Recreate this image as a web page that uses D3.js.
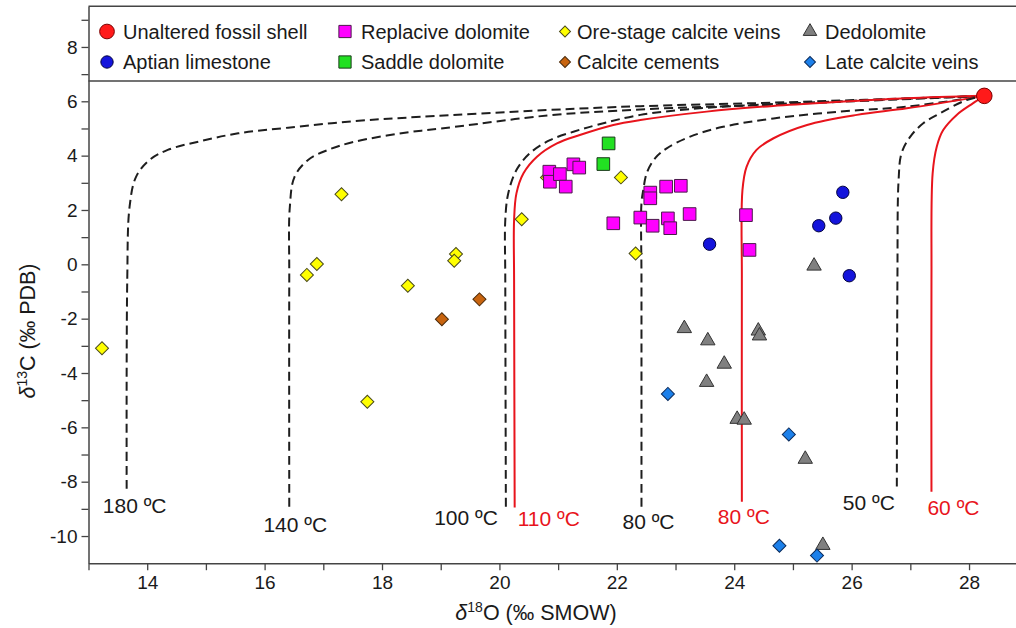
<!DOCTYPE html>
<html>
<head>
<meta charset="utf-8">
<script src="https://cdn.jsdelivr.net/npm/d3@7"></script>
<style>
  body { margin: 0; background: #fff; }
  svg text { font-family: "Liberation Sans", Arial, sans-serif; fill: #1a1a1a; }
</style>
</head>
<body>
<div id="chart"></div>
<script>
// ---- data (δ18O ‰ SMOW, δ13C ‰ PDB) ----
const fossilShell = [[28.26, 6.2]];
const aptianLimestone = [[23.58, 0.74], [25.85, 2.65], [25.73, 1.70], [25.44, 1.42], [25.96, -0.42]];
const replaciveDolomite = [
  [20.85, 3.41], [20.86, 3.04], [21.03, 3.32], [21.13, 2.86], [21.26, 3.68], [21.36, 3.56],
  [22.57, 2.64], [22.57, 2.43], [22.84, 2.86], [23.09, 2.89],
  [21.94, 1.51], [22.40, 1.72], [22.61, 1.42], [22.87, 1.69], [22.91, 1.33], [23.24, 1.85],
  [24.20, 1.81], [24.26, 0.53]
];
const saddleDolomite = [[21.86, 4.45], [21.77, 3.69]];
const oreStageVeins = [
  [13.23, -3.09], [17.31, 2.58], [16.89, 0.01], [16.72, -0.39], [19.26, 0.38], [19.23, 0.13],
  [18.44, -0.79], [17.75, -5.06], [20.81, 3.20], [22.07, 3.20], [20.38, 1.66], [22.32, 0.40]
];
const calciteCements = [[19.66, -1.29], [19.02, -2.02]];
const dedolomite = [
  [23.15, -2.36], [23.55, -2.81], [23.83, -3.67], [23.53, -4.34], [24.41, -2.45], [24.43, -2.63],
  [24.05, -5.70], [24.17, -5.73], [25.21, -7.17], [25.51, -10.34], [25.36, -0.06]
];
const lateVeins = [[22.87, -4.77], [24.93, -6.26], [24.77, -10.36], [25.41, -10.72]];

// fluid–rock interaction curves
const curve180 = [[13.65, -8.26], [13.66, -0.58], [13.70, 2.12], [13.81, 3.22], [14.04, 3.84], [14.35, 4.21],
  [14.92, 4.54], [15.55, 4.82], [16.40, 5.03], [17.53, 5.27], [18.66, 5.43], [20.83, 5.68], [22.40, 5.82],
  [24.66, 5.95], [28.26, 6.2]];
const curve140 = [[16.42, -8.92], [16.42, -0.58], [16.43, 2.12], [16.51, 3.22], [16.74, 3.84], [17.08, 4.21],
  [17.53, 4.51], [18.39, 4.84], [19.24, 5.06], [20.83, 5.48], [22.40, 5.70], [24.66, 5.88], [28.26, 6.2]];
const curve100 = [[20.11, -8.92], [20.10, -0.58], [20.10, 1.63], [20.15, 2.61], [20.29, 3.47], [20.52, 4.09],
  [20.86, 4.57], [21.26, 4.88], [21.66, 5.13], [22.40, 5.50], [23.53, 5.76], [25.80, 6.00], [28.26, 6.2]];
const curve110 = [[20.26, -8.95], [20.25, -0.58], [20.25, 1.63], [20.29, 2.61], [20.41, 3.35], [20.64, 3.96],
  [20.98, 4.45], [21.37, 4.76], [21.94, 5.13], [22.40, 5.31], [23.53, 5.62], [24.66, 5.83], [25.80, 5.98],
  [26.94, 6.11], [28.26, 6.2]];
const curve80 = [[22.42, -8.92], [22.42, -0.58], [22.42, 2.26], [22.45, 2.73], [22.51, 3.36], [22.65, 3.90],
  [22.85, 4.27], [23.25, 4.70], [23.81, 5.06], [24.67, 5.37], [25.80, 5.62], [26.94, 5.80], [28.26, 6.2]];
const curve80red = [[24.13, -8.74], [24.13, -0.58], [24.14, 2.73], [24.21, 3.59], [24.38, 4.21], [24.67, 4.64],
  [25.24, 5.13], [26.09, 5.50], [26.94, 5.74], [28.26, 6.2]];
const curve50 = [[26.77, -8.18], [26.78, -0.58], [26.80, 3.10], [26.85, 4.09], [27.00, 4.70], [27.22, 5.19],
  [27.51, 5.56], [27.96, 6.05], [28.26, 6.2]];
const curve60red = [[27.36, -8.37], [27.36, -0.58], [27.38, 3.35], [27.45, 4.33], [27.56, 4.94], [27.79, 5.50],
  [28.07, 5.93], [28.26, 6.2]];

const curveLabels = ["180 ºC", "140 ºC", "100 ºC", "110 ºC", "80 ºC", "80 ºC", "50 ºC", "60 ºC"];
const curveKinds = ["dashed", "dashed", "dashed", "red", "dashed", "red", "dashed", "red"];
const curveData = [curve180, curve140, curve100, curve110, curve80, curve80red, curve50, curve60red];

const xTicks = d3.range(13, 29);
const yTicks = d3.range(-10, 10);

// ---- layout ----
const W = 1016, H = 628;
const x = d3.scaleLinear().domain([13, 28.8]).range([88.5, 1016]);
const y = d3.scaleLinear().domain([-11, 9.5]).range([563.2, 6.2]);

const svg = d3.select("#chart").append("svg").attr("width", W).attr("height", H);

// curves
const line = d3.line().x(d => x(d[0])).y(d => y(d[1])).curve(d3.curveCatmullRom.alpha(0.5));
// label offsets from the lower end of each curve (px): dx, dy, anchor
const labelPlace = [
  [8, 24, "middle"], [6, 25, "middle"], [-8, 18, "end"], [3, 18, "start"],
  [7, 22, "middle"], [2, 22, "middle"], [-2, 23, "end"], [22, 23, "middle"]
];

curveData.forEach((pts, i) => {
  const red = curveKinds[i] === "red";
  svg.append("path")
    .attr("d", line(pts))
    .attr("fill", "none")
    .attr("stroke", red ? "#e8141c" : "#1e1e1e")
    .attr("stroke-width", red ? 2 : 2)
    .attr("stroke-dasharray", red ? null : "9,5");
  const end = pts[0];
  const p = labelPlace[i];
  svg.append("text")
    .attr("x", x(end[0]) + p[0])
    .attr("y", y(end[1]) + p[1])
    .attr("text-anchor", p[2])
    .style("font-size", "21px")
    .style("fill", red ? "#e8141c" : "#1a1a1a")
    .text(curveLabels[i]);
});

// axes
const yAxis = svg.append("g")
  .attr("transform", `translate(${x(13)},0)`)
  .call(d3.axisLeft(y).tickValues(yTicks).tickSize(7).tickSizeOuter(0).tickPadding(4)
    .tickFormat(d => (d % 2 === 0 ? String(d) : "")));
const xAxis = svg.append("g")
  .attr("transform", `translate(0,${y(-11)})`)
  .call(d3.axisBottom(x).tickValues(xTicks).tickSize(7).tickSizeOuter(0).tickPadding(5)
    .tickFormat(d => (d % 2 === 0 ? String(d) : "")));
[xAxis, yAxis].forEach(g => {
  g.select(".domain").attr("stroke", "#444").attr("stroke-width", 1.5);
  g.selectAll(".tick line").attr("stroke", "#444").attr("stroke-width", 1.3);
  g.selectAll(".tick text").style("font-size", "19px").style("fill", "#1a1a1a")
    .style("font-family", "Liberation Sans, Arial, sans-serif");
});

// frame top and legend box separator
svg.append("line").attr("x1", x(13)).attr("x2", W).attr("y1", y(9.5)).attr("y2", y(9.5))
  .attr("stroke", "#444").attr("stroke-width", 1.5);
svg.append("line").attr("x1", x(13)).attr("x2", W).attr("y1", 81).attr("y2", 81)
  .attr("stroke", "#444").attr("stroke-width", 1.5);

// axis titles
const xt = svg.append("text").attr("x", 536).attr("y", 620).attr("text-anchor", "middle").style("font-size", "21.5px");
xt.append("tspan").style("font-style", "italic").text("δ");
xt.append("tspan").attr("dy", -8).style("font-size", "14px").text("18");
xt.append("tspan").attr("dy", 8).text("O (‰ SMOW)");

const yt = svg.append("text").attr("transform", "translate(35,331) rotate(-90)").attr("text-anchor", "middle")
  .style("font-size", "21.5px");
yt.append("tspan").style("font-style", "italic").text("δ");
yt.append("tspan").attr("dy", -8).style("font-size", "14px").text("13");
yt.append("tspan").attr("dy", 8).text("C (‰ PDB)");

// point series
const series = [
  { name: "Unaltered fossil shell", data: fossilShell, shape: "circle", fill: "#ff1a1a", stroke: "#7a0000", size: 190 },
  { name: "Aptian limestone", data: aptianLimestone, shape: "circle", fill: "#1414dc", stroke: "#000040", size: 120 },
  { name: "Replacive dolomite", data: replaciveDolomite, shape: "square", fill: "#ff00ff", stroke: "#4a1a4a", size: 160 },
  { name: "Saddle dolomite", data: saddleDolomite, shape: "square", fill: "#22e022", stroke: "#1a3a1a", size: 160 },
  { name: "Ore-stage calcite veins", data: oreStageVeins, shape: "diamond", fill: "#ffff00", stroke: "#4a4a1a", size: 85 },
  { name: "Calcite cements", data: calciteCements, shape: "diamond", fill: "#c8640f", stroke: "#4a2a0a", size: 85 },
  { name: "Dedolomite", data: dedolomite, shape: "triangle", fill: "#808080", stroke: "#333", size: 90 },
  { name: "Late calcite veins", data: lateVeins, shape: "diamond", fill: "#1c80ea", stroke: "#0a2a5a", size: 85 }
];

function symbolPath(shape, size) {
  const t = shape === "circle" ? d3.symbolCircle
    : shape === "triangle" ? d3.symbolTriangle : d3.symbolSquare;
  return d3.symbol().type(t).size(size)();
}

// draw order: squares/diamonds/triangles first, fossil shell on top
const drawOrder = [6, 7, 5, 4, 2, 3, 1, 0];
drawOrder.forEach(i => {
  const s = series[i];
  svg.append("g").selectAll("path")
    .data(s.data)
    .join("path")
    .attr("d", symbolPath(s.shape, s.size))
    .attr("transform", d => `translate(${x(d[0])},${y(d[1])})` + (s.shape === "diamond" ? " rotate(45)" : ""))
    .attr("fill", s.fill)
    .attr("stroke", s.stroke)
    .attr("stroke-width", 1);
});

// legend
const legendCols = [
  { mx: 107, tx: 123 }, { mx: 345, tx: 361 }, { mx: 565, tx: 577 }, { mx: 810, tx: 825 }
];
const legendRows = [31.5, 62];
const legendOrder = [
  ["Unaltered fossil shell", "Replacive dolomite", "Ore-stage calcite veins", "Dedolomite"],
  ["Aptian limestone", "Saddle dolomite", "Calcite cements", "Late calcite veins"]
];
legendOrder.forEach((row, r) => {
  row.forEach((name, c) => {
    const s = series.find(d => d.name === name);
    const g = svg.append("g").attr("transform", `translate(0,${legendRows[r]})`);
    const lsize = s.shape === "circle" ? (name === "Unaltered fossil shell" ? 170 : 120)
      : s.shape === "square" ? 150 : s.shape === "diamond" ? 60 : 80;
    g.append("path")
      .attr("d", symbolPath(s.shape, lsize))
      .attr("transform", `translate(${legendCols[c].mx},0)` + (s.shape === "diamond" ? " rotate(45)" : ""))
      .attr("fill", s.fill)
      .attr("stroke", s.stroke)
      .attr("stroke-width", 1);
    g.append("text")
      .attr("x", legendCols[c].tx)
      .attr("y", 7)
      .style("font-size", "20px")
      .text(name);
  });
});
</script>
</body>
</html>
